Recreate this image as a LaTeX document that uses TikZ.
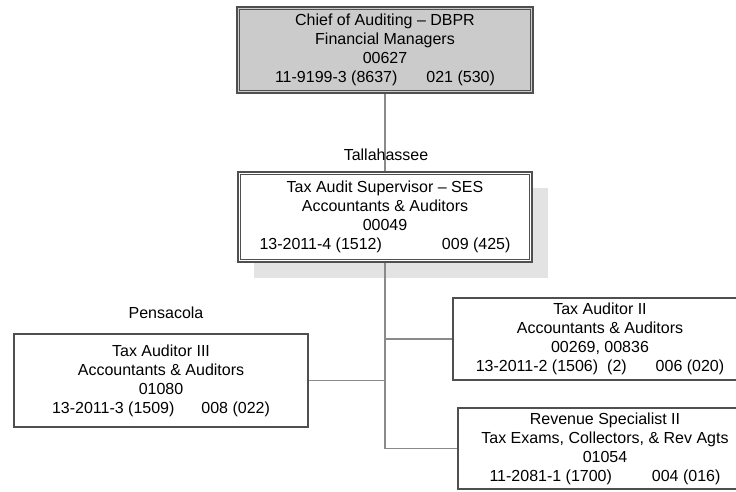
\documentclass[tikz,border=0pt]{standalone}
\usepackage{fontspec}
\setmainfont{Liberation Sans}
\definecolor{boxline}{HTML}{4F4F4F}
\definecolor{wirecol}{HTML}{8A8A8A}
\definecolor{headfill}{HTML}{CBCBCB}
\definecolor{shadowcol}{HTML}{E3E3E3}
\begin{document}
\begin{tikzpicture}[x=1pt,y=-1pt,
  every node/.style={font=\fontsize{16}{19}\selectfont, align=center, inner sep=0pt},
  box/.style={draw=boxline, line width=1.8pt, fill=white, minimum width=294pt},
  wire/.style={draw=wirecol, line width=1.2pt},
  innerline/.style={draw=boxline, line width=0.8pt}]
\useasboundingbox (0,0) rectangle (736,492);
\begin{scope}
\clip (0,0) rectangle (736,492);

% drop shadow behind the supervisor box
\fill[shadowcol] (254,188) rectangle (548,278);

% positions
\coordinate (topc) at (385,50);
\coordinate (tallc) at (385,217);

% boxes
\node[box, fill=headfill, line width=2.4pt, minimum width=296pt, minimum height=86pt] (top) at (topc)
  {Chief of Auditing -- DBPR\\Financial Managers\\00627\\11-9199-3 (8637)\hspace{29pt}021 (530)};
\node[box, line width=2.4pt, minimum height=90pt] (tall) at (tallc)
  {Tax Audit Supervisor -- SES\\Accountants \& Auditors\\00049\\13-2011-4 (1512)\hspace{60pt}009 (425)};
\node[box, minimum height=93pt] (ta3) at (161,380.5)
  {Tax Auditor III\\Accountants \& Auditors\\01080\\13-2011-3 (1509)\hspace{27pt}008 (022)};
\node[box, minimum height=82pt] (ta2) at (600,339)
  {Tax Auditor II\\Accountants \& Auditors\\00269, 00836\\13-2011-2 (1506)\hspace{9pt}(2)\hspace{29pt}006 (020)};
\node[box, minimum height=81pt] (rev) at (605,448.5)
  {Revenue Specialist II\\Tax Exams, Collectors, \& Rev Agts\\01054\\11-2081-1 (1700)\hspace{40pt}004 (016)};

% inner lines of the double borders
\draw[innerline] ([xshift=3.5pt,yshift=-3.5pt]top.north west) rectangle ([xshift=-3.5pt,yshift=3.5pt]top.south east);
\draw[innerline] ([xshift=3.5pt,yshift=-3.5pt]tall.north west) rectangle ([xshift=-3.5pt,yshift=3.5pt]tall.south east);

% connectors
\draw[wire] (top.south) -- (tall.north);
\draw[wire] (tall.south) |- (rev.west);
\draw[wire] (tall.south |- ta2.west) -- (ta2.west);
\draw[wire] (tall.south |- ta3.east) -- (ta3.east);

% location labels
\node (tallahassee) at (386,155) {Tallahassee};
\node (pensacola) at (166,313) {Pensacola};
\end{scope}
\end{tikzpicture}
\end{document}
